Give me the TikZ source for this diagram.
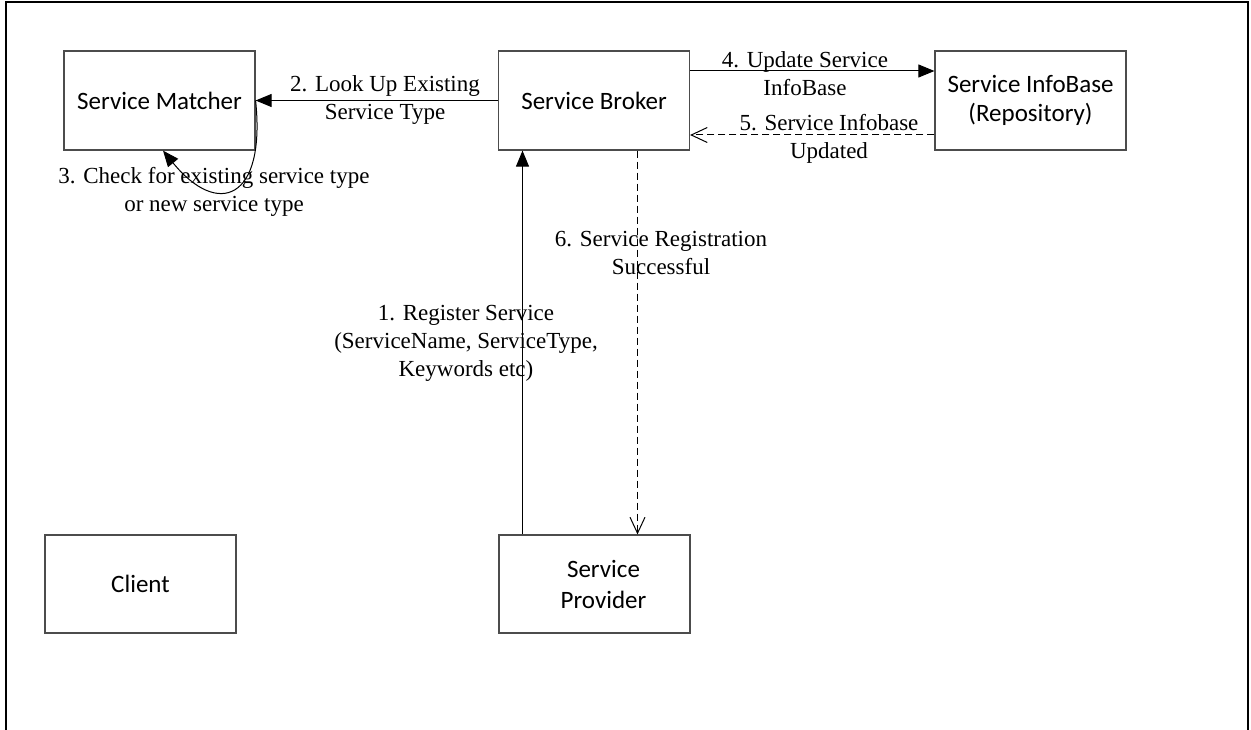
\documentclass[tikz,border=0pt]{standalone}
\usepackage{fontspec}
\setmainfont{Liberation Serif}
\newfontfamily\boxfont{Carlito}
\usetikzlibrary{arrows.meta}
\begin{document}
\begin{tikzpicture}[x=1pt,y=-1pt,
  sbox/.style={draw=black!70, line width=1.2pt, minimum width=191pt, minimum height=99pt,
    inner sep=0pt, align=center, font=\boxfont\fontsize{25}{29}\selectfont},
  lbl/.style={align=center, inner sep=0pt, font=\fontsize{23}{28}\selectfont},
  solidarrow/.style={draw=black, line width=1pt, -{Triangle[length=16pt,width=13pt]}},
  dasharrow/.style={draw=black, line width=1pt, dash pattern=on 7pt off 4pt,
    -{Straight Barb[length=16pt,width=15pt]}},
  frameline/.style={draw=black, line width=2pt}
]
\useasboundingbox (0,0) rectangle (1251,730);
% outer frame (open at the bottom)
\draw[frameline] (6,731) -- (6,2) -- (1247.5,2) -- (1247.5,731);

% boxes
\node[sbox] (matcher)  at (159.5,100.5) {Service Matcher};
\node[sbox] (broker)   at (594,100.5)   {Service Broker};
\node[sbox] (infobase) at (1030.5,100.5){Service InfoBase\\(Repository)};
\node[sbox, minimum height=98pt] (client)   at (140.5,584) {Client};
\node[sbox, minimum height=98pt, font=\boxfont\fontsize{25}{31}\selectfont] (provider) at (594.5,584)
  {\hspace*{18pt}Service\\\hspace*{18pt}Provider};

% connectors
\draw[solidarrow] (broker.west) -- (matcher.east);
\draw[solidarrow] ([yshift=29.5pt]broker.east) -- ([yshift=29.5pt]infobase.west);
\draw[dasharrow] ([yshift=-34.5pt]infobase.west) -- ([yshift=-34.5pt]broker.east);
\draw[solidarrow] ([xshift=-72pt]provider.north) -- ([xshift=-71.5pt]broker.south);
\draw[dasharrow] ([xshift=43.5pt]broker.south) -- ([xshift=43pt]provider.north);
\draw[solidarrow] (matcher.east) .. controls (266,200) and (218,218) .. ([xshift=3.5pt]matcher.south);

% labels
\node[lbl] (l2) at (385,100.2) {2. Look Up Existing\\Service Type};
\node[lbl] (l4) at (805,73.2) {4. Update Service\\InfoBase};
\node[lbl] (l5) at (829,139.2) {5. Service Infobase\\Updated};
\node[lbl] (l6) at (661,253) {6. Service Registration\\Successful};
\node[lbl] (l1) at (466,343.6) {1. Register Service\\(ServiceName, ServiceType,\\Keywords etc)};
\node[lbl] (l3) at (214,191.7) {3. Check for existing service type\\or new service type};
\end{tikzpicture}
\end{document}
